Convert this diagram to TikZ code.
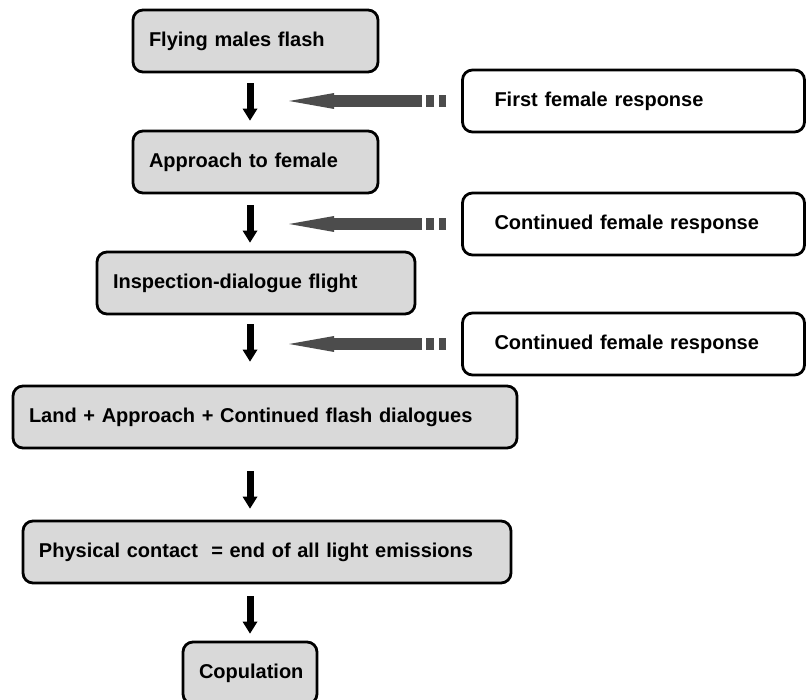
\documentclass[tikz,border=0pt]{standalone}
\usepackage{fontspec}
\setmainfont{Liberation Sans}
\usetikzlibrary{arrows.meta}

\tikzset{
  stage/.style={draw, fill=white!85!black, rounded corners=5pt, line width=1.4pt,
    minimum height=31pt, inner xsep=8pt, align=left, font=\bfseries},
  reply/.style={draw, fill=white, rounded corners=5pt, line width=1.4pt,
    minimum height=31pt, inner xsep=16pt, text width=139pt, align=left, font=\bfseries},
  flowarrow/.style={line width=3.5pt, -{Triangle[length=6pt,width=7.5pt,line width=0pt]}},
  cuearrow/.style={line width=6pt, black!70,
    dash pattern=on 3.5pt off 2.5pt on 4pt off 2pt on 300pt,
    -{Triangle[length=22.5pt,width=8pt,line width=0pt]}}
}

\begin{document}
\begin{tikzpicture}[x=0.5pt, y=-0.5pt]

  % The page
  \clip (0,0) rectangle (809,700);
  \fill[white] (0,0) rectangle (809,700);
  \coordinate (axis) at (250,0);

  % The male sequence, top to bottom
  \node[stage, text width=106.5pt] (fly) at (255.5,41) {Flying males flash};
  \node[stage, text width=106.5pt] (approach) at (255.5,162) {Approach to female};
  \node[stage, text width=143pt] (inspect) at (256,283) {Inspection-dialogue flight};
  \node[stage, text width=236pt] (land) at (265,417) {Land + Approach + Continued flash dialogues};
  \node[stage, text width=228pt] (contact) at (267,552) {Physical contact \ = end of all light emissions};
  \node[stage, text width=51pt, align=center] (copula) at (250,673) {Copulation};

  % The female answers on the right
  \node[reply] (first) at (633.5,101) {First female response};
  \node[reply] (more) at (633.5,224) {Continued female response};
  \node[reply] (again) at (633.5,344) {Continued female response};

  % Black arrows down the middle
  \draw[flowarrow, shorten <=5pt, shorten >=4.5pt] (fly.south -| axis) -- (approach.north -| axis);
  \draw[flowarrow, shorten <=5.5pt, shorten >=4pt] (approach.south -| axis) -- (inspect.north -| axis);
  \draw[flowarrow, shorten <=4.5pt, shorten >=11.5pt] (inspect.south -| axis) -- (land.north -| axis);
  \draw[flowarrow, shorten <=11pt, shorten >=5.5pt] (land.south -| axis) -- (contact.north -| axis);
  \draw[flowarrow, shorten <=6pt, shorten >=3.5pt] (contact.south -| axis) -- (copula.north -| axis);

  % Grey arrows from each response
  \foreach \r in {first,more,again}
    \draw[cuearrow] ([xshift=-7.5pt]\r.west) -- ([xshift=-86pt]\r.west);

\end{tikzpicture}
\end{document}
